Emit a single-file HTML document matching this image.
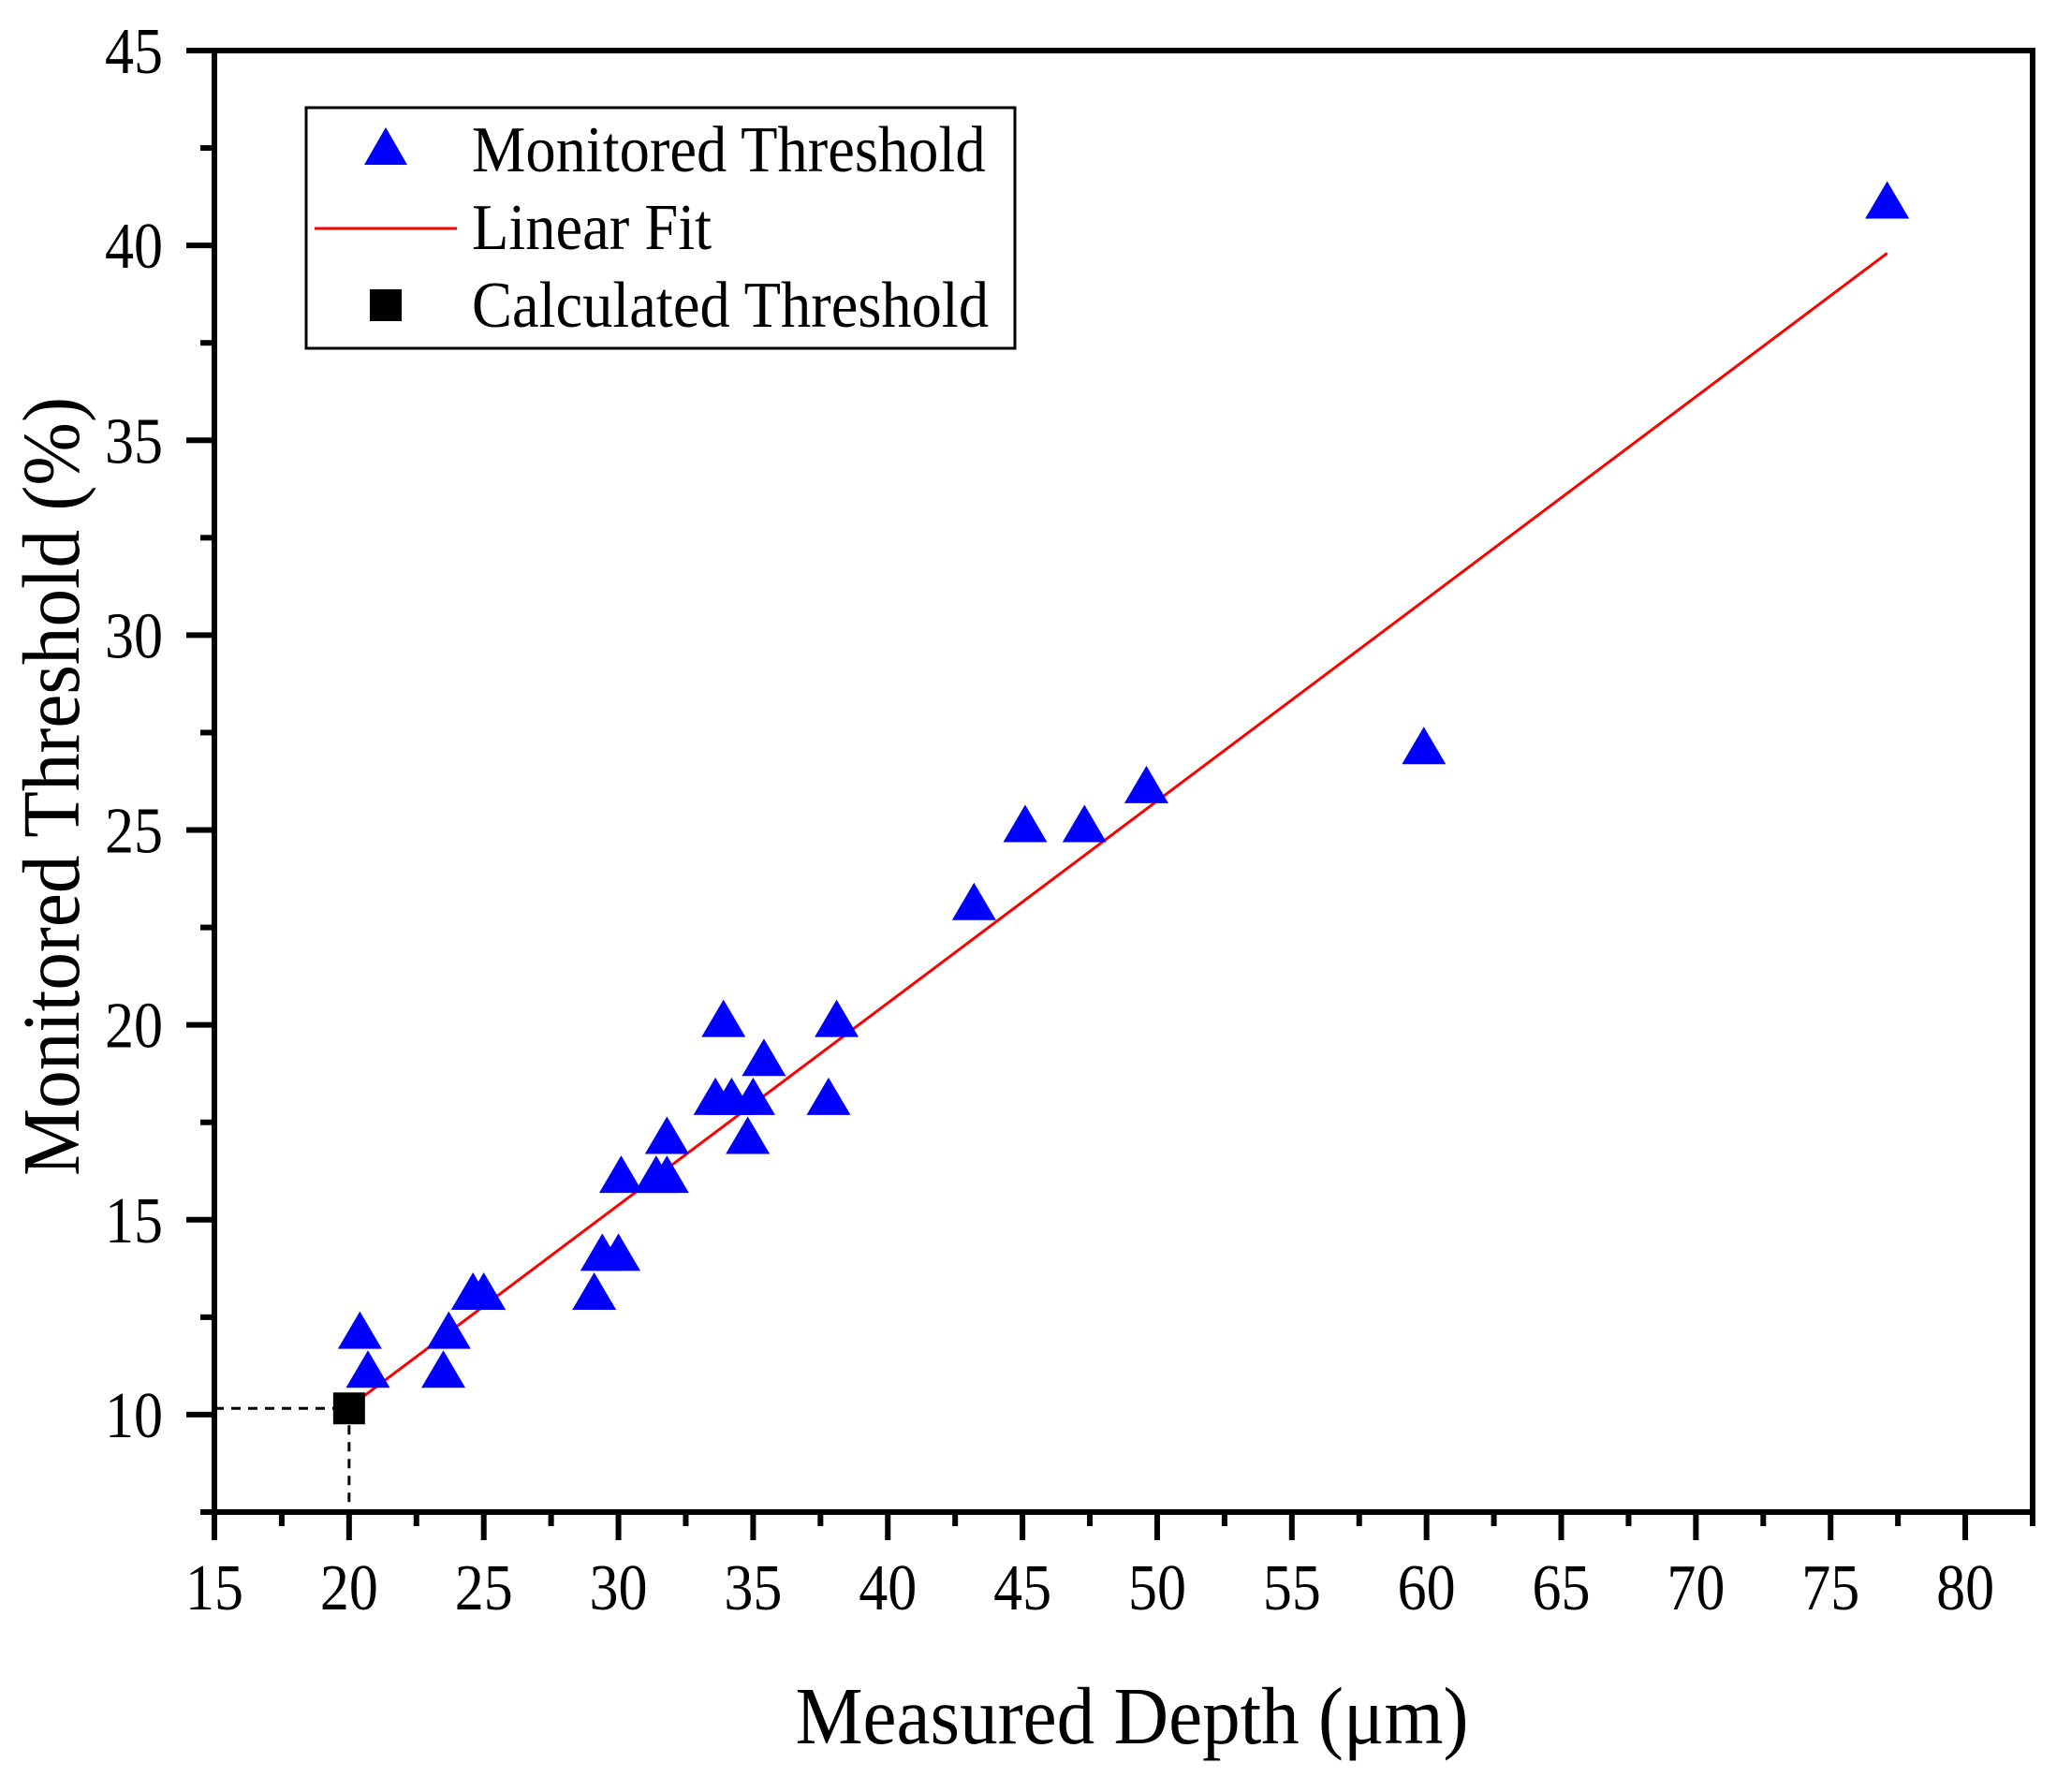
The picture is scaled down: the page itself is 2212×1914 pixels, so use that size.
<!DOCTYPE html>
<html><head><meta charset="utf-8"><style>
html,body{margin:0;padding:0;background:#fff;}
svg{display:block;font-family:"Liberation Serif","Times New Roman",serif;}
</style></head><body>
<svg id="chart" width="2212" height="1914" viewBox="0 0 2212 1914" xmlns="http://www.w3.org/2000/svg">
<g id="plot"></g>
</svg>
<script>
const monitoredX = [77.1, 59.9, 49.6, 45.1, 47.3, 43.2, 33.9, 38.1, 35.4, 33.6, 34.2, 35.0, 37.8, 34.8, 31.8, 30.1, 31.4, 31.8, 29.4, 30.0, 29.1, 24.6, 25.0, 20.4, 23.7, 20.7, 23.5];
const monitoredY = [41, 27, 26, 25, 25, 23, 20, 20, 19, 18, 18, 18, 18, 17, 17, 16, 16, 16, 14, 14, 13, 13, 13, 12, 12, 11, 11];
const fitX = [20.5, 77.1];
const fitY = [10.45, 39.8];
const calcX = [20.0];
const calcY = [10.16];
const xTicks = [15, 20, 25, 30, 35, 40, 45, 50, 55, 60, 65, 70, 75, 80];
const yTicks = [10, 15, 20, 25, 30, 35, 40, 45];

const L = 229, R = 2171, T = 54, B = 1615;
const X0 = 15, X1 = 82.5, Y0 = 7.5, Y1 = 45;
const sx = v => L + (v - X0) / (X1 - X0) * (R - L);
const sy = v => B - (v - Y0) / (Y1 - Y0) * (B - T);
const NS = "http://www.w3.org/2000/svg";
const svg = document.getElementById('chart');
function mk(tag, attrs, parent) {
  const e = document.createElementNS(NS, tag);
  for (const k in attrs) e.setAttribute(k, attrs[k]);
  (parent || svg).appendChild(e);
  return e;
}

let g = mk('g', {});


let e = mk('line', {x1: L, y1: sy(calcY[0]), x2: sx(calcX[0]), y2: sy(calcY[0]), stroke: '#000', 'stroke-width': 3, 'stroke-dasharray': '10,8'}, g);


e = mk('line', {x1: sx(calcX[0]), y1: sy(calcY[0]), x2: sx(calcX[0]), y2: B, stroke: '#000', 'stroke-width': 3, 'stroke-dasharray': '10,8'}, g);



e = mk('line', {x1: sx(fitX[0]), y1: sy(fitY[0]), x2: sx(fitX[1]), y2: sy(fitY[1]), stroke: '#ff0000', 'stroke-width': 3});



g = mk('g', {fill: '#0000ff'});


for (let i = 0; i < monitoredX.length; i++) {
  const cx = sx(monitoredX[i]), cy = sy(monitoredY[i]);
  const p = mk('polygon', {points: `${cx},${cy-27} ${cx-23.5},${cy+13} ${cx+23.5},${cy+13}`}, g);
  
  
}
for (let i = 0; i < calcX.length; i++) {
  const r = mk('rect', {x: sx(calcX[i]) - 17, y: sy(calcY[i]) - 17, width: 34, height: 34, fill: '#000'});
  
  
}

e = mk('rect', {x: L, y: T, width: R - L, height: B - T, fill: 'none', stroke: '#000', 'stroke-width': 6});



g = mk('g', {});


for (let v = 15; v <= 82.5; v += 2.5) {
  const major = (v % 5 === 0);
  const t = mk('line', {x1: sx(v), y1: B, x2: sx(v), y2: B + (major ? 30 : 15), stroke: '#000', 'stroke-width': 6}, g);
  
  
}
xTicks.forEach(v => {
  const t = mk('text', {x: 0, y: 0, 'text-anchor': 'middle', 'font-size': 62, transform: `translate(${sx(v)},1719) scale(1,1.12)`}, g);
  t.textContent = v;
  
  
});
g = mk('g', {});


for (let v = 7.5; v <= 45; v += 2.5) {
  const major = (v % 5 === 0);
  const t = mk('line', {x1: L, y1: sy(v), x2: L - (major ? 30 : 15), y2: sy(v), stroke: '#000', 'stroke-width': 6}, g);
  
  
}
yTicks.forEach(v => {
  const t = mk('text', {x: 0, y: 0, 'text-anchor': 'end', 'font-size': 62, transform: `translate(174,${sy(v) + 24}) scale(1,1.12)`}, g);
  t.textContent = v;
  
  
});

e = mk('text', {x: 0, y: 0, 'text-anchor': 'middle', 'font-size': 78, transform: 'translate(1209,1862) scale(1.04,1.12)'});
e.textContent = 'Measured Depth (\u03bcm)';


e = mk('text', {x: 0, y: 0, 'text-anchor': 'middle', 'font-size': 78, transform: 'translate(84,840) rotate(-90) scale(1.04,1.12)'});
e.textContent = 'Monitored Threshold (%)';



g = mk('g', {});


e = mk('rect', {x: 327, y: 115, width: 757, height: 257, fill: '#fff', stroke: '#000', 'stroke-width': 3}, g);


e = mk('polygon', {points: '412,136 389,176 435,176', fill: '#0000ff'}, g);


e = mk('line', {x1: 336, y1: 244, x2: 488, y2: 244, stroke: '#ff0000', 'stroke-width': 3}, g);


e = mk('rect', {x: 395, y: 309, width: 34, height: 34, fill: '#000'}, g);


const labels = [['Monitored Threshold', 183, 'legend-entry-monitored'], ['Linear Fit', 266, 'legend-entry-fit'], ['Calculated Threshold', 349, 'legend-entry-calculated']];
labels.forEach(l => {
  const t = mk('text', {x: 0, y: 0, 'font-size': 62, transform: `translate(504,${l[1]}) scale(1.04,1.12)`}, g);
  t.textContent = l[0];
  
  
});
</script>
</body></html>
